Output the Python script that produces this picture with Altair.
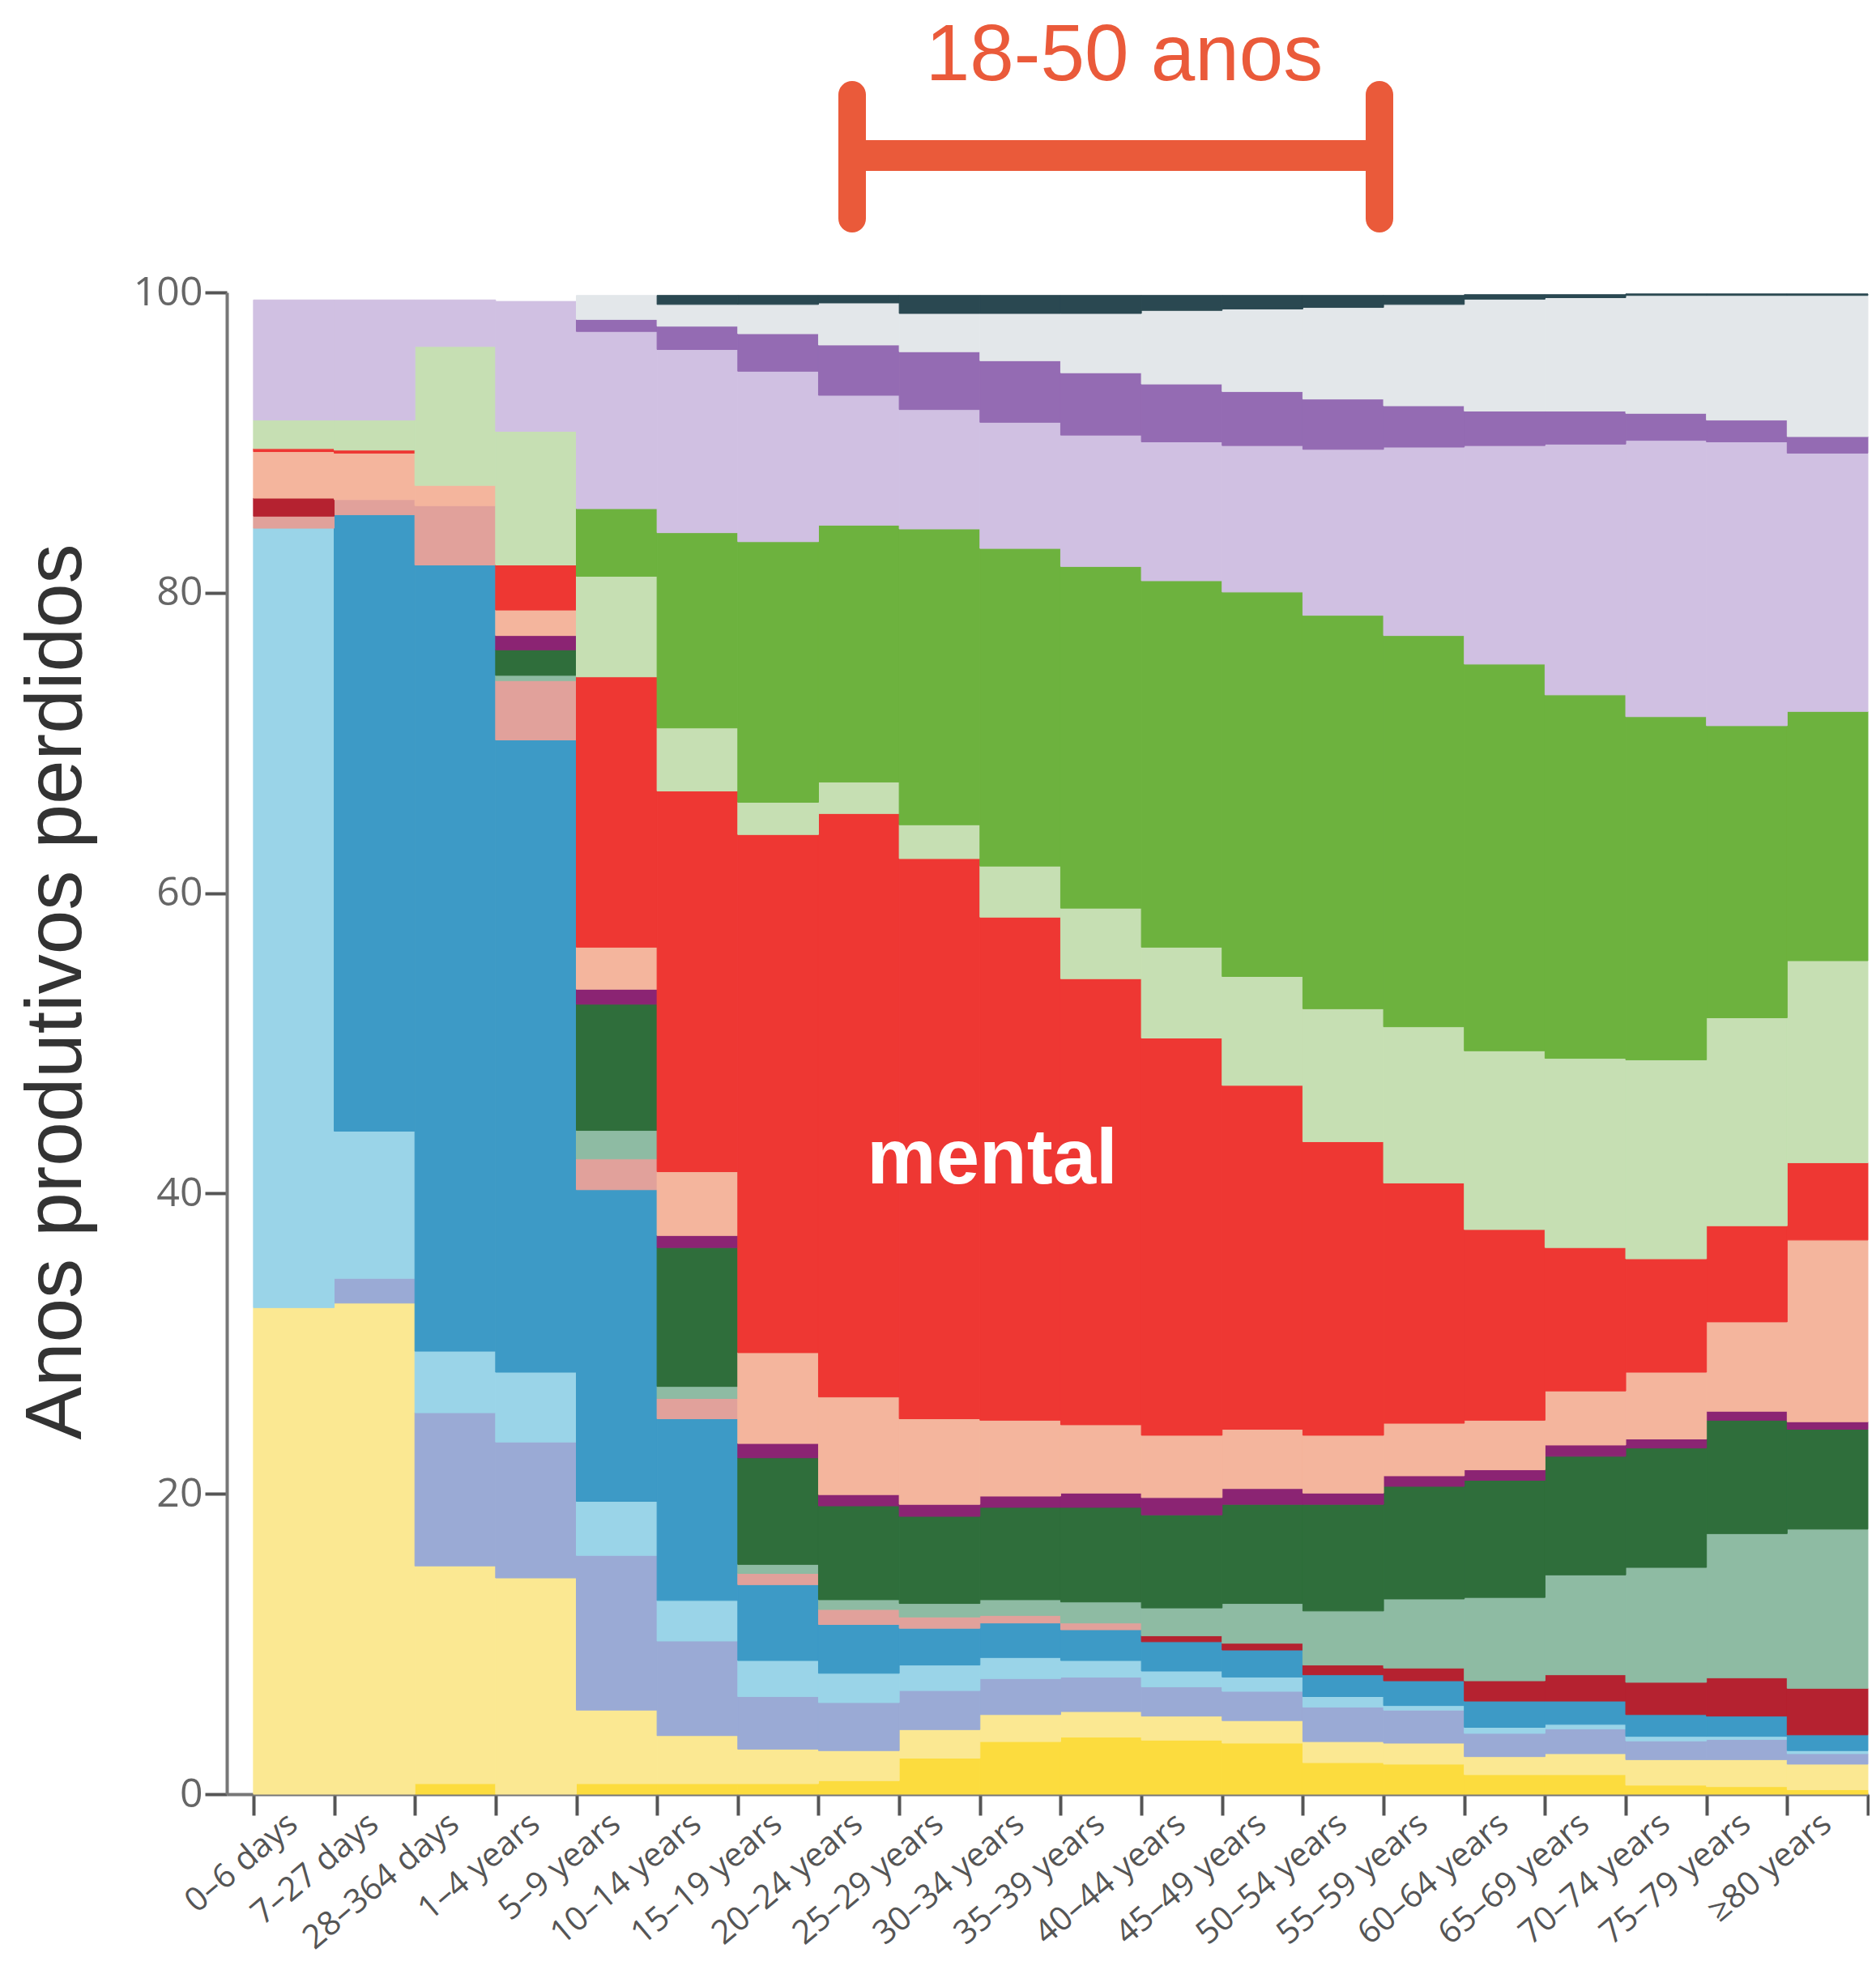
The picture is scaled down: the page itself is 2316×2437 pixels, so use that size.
import json
import altair as alt
import pandas as pd

# ---------------- data ----------------
age_groups = [
    "0–6 days", "7–27 days", "28–364 days", "1–4 years", "5–9 years",
    "10–14 years", "15–19 years", "20–24 years", "25–29 years", "30–34 years",
    "35–39 years", "40–44 years", "45–49 years", "50–54 years", "55–59 years",
    "60–64 years", "65–69 years", "70–74 years", "75–79 years", "≥80 years",
]

layer_names = [
    "L01 amarelo", "L02 amarelo claro", "L03 lilás-azul", "L04 azul claro",
    "L05 azul", "L06 rosa", "L07 carmim", "L08 verde-sálvia", "L09 verde escuro",
    "L10 roxo", "L11 salmão", "L12 mental", "L13 verde claro", "L14 verde",
    "L15 lavanda", "L16 roxo médio", "L17 cinza claro", "L18 ardósia",
]
layer_colors = [
    "#FCDC3E", "#FBE892", "#9AAAD5", "#9AD4E8", "#3D9AC6", "#E1A19B",
    "#B52230", "#8EBBA3", "#2F6E3B", "#8B2473", "#F4B59D", "#EE3733",
    "#C6DFB3", "#6DB23E", "#D0C0E2", "#946BB3", "#E3E7EA", "#2A4851",
]

# cumulative top of each layer (percent), one value per age group
top_L01 = [0, 0, 0.7, 0, 0.7, 0.7, 0.7, 0.9, 2.4, 3.5, 3.8, 3.6, 3.4, 2.1, 2.0, 1.3, 1.3, 0.6, 0.5, 0.3]
top_L02 = [32.4, 32.7, 15.2, 14.4, 5.6, 3.9, 3.0, 2.9, 4.3, 5.3, 5.5, 5.2, 4.9, 3.5, 3.4, 2.5, 2.7, 2.3, 2.3, 2.0]
top_L03 = [32.4, 34.35, 25.4, 23.45, 15.9, 10.2, 6.5, 6.1, 6.9, 7.7, 7.8, 7.15, 6.85, 5.8, 5.6, 4.05, 4.35, 3.55, 3.65, 2.7]
top_L04 = [84.3, 44.15, 29.5, 28.1, 19.5, 12.9, 8.9, 8.05, 8.6, 9.1, 8.9, 8.2, 7.8, 6.5, 5.9, 4.45, 4.65, 3.85, 3.85, 2.9]
top_L05 = [84.3, 85.2, 81.85, 70.2, 40.25, 25.0, 13.95, 11.3, 11.05, 11.4, 10.95, 10.15, 9.6, 7.95, 7.55, 6.2, 6.2, 5.3, 5.2, 3.95]
top_L06 = [85.1, 86.2, 85.8, 74.15, 42.3, 26.35, 14.7, 12.3, 11.8, 11.9, 11.4, 10.15, 9.6, 7.95, 7.55, 6.2, 6.2, 5.3, 5.2, 3.95]
top_L07 = [86.3, 86.2, 85.8, 74.15, 42.3, 26.35, 14.7, 12.3, 11.8, 11.9, 11.4, 10.55, 10.05, 8.6, 8.4, 7.55, 7.95, 7.45, 7.75, 7.05]
top_L08 = [86.3, 86.2, 85.8, 74.5, 44.2, 27.15, 15.3, 12.95, 12.7, 12.95, 12.8, 12.4, 12.7, 12.2, 13.0, 13.1, 14.6, 15.1, 17.35, 17.65]
top_L09 = [86.3, 86.2, 85.8, 76.2, 52.6, 36.4, 22.4, 19.2, 18.5, 19.1, 19.1, 18.6, 19.3, 19.3, 20.5, 20.9, 22.5, 23.05, 24.9, 24.3]
top_L10 = [86.3, 86.2, 85.8, 77.15, 53.6, 37.2, 23.35, 19.95, 19.3, 19.85, 20.05, 19.75, 20.35, 20.05, 21.2, 21.6, 23.25, 23.65, 25.5, 24.8]
top_L11 = [89.4, 89.3, 87.15, 78.85, 56.4, 41.45, 29.4, 26.45, 25.0, 24.9, 24.6, 23.9, 24.3, 23.9, 24.7, 24.9, 26.85, 28.1, 31.45, 36.9]
top_L12 = [89.6, 89.5, 87.15, 81.85, 74.4, 66.8, 63.9, 65.3, 62.3, 58.4, 54.3, 50.35, 47.2, 43.45, 40.7, 37.6, 36.4, 35.65, 37.85, 42.05]
top_L13 = [91.5, 91.5, 96.4, 90.75, 81.1, 71.0, 66.05, 67.4, 64.55, 61.8, 59.0, 56.4, 54.45, 52.3, 51.1, 49.5, 49.0, 48.9, 51.7, 55.5]
top_L14 = [91.5, 91.5, 96.4, 90.75, 85.6, 84.0, 83.4, 84.5, 84.25, 82.95, 81.75, 80.8, 80.05, 78.5, 77.15, 75.25, 73.2, 71.75, 71.15, 72.1]
top_L15 = [99.5, 99.5, 99.5, 99.4, 97.4, 96.2, 94.75, 93.15, 92.2, 91.35, 90.5, 90.05, 89.8, 89.55, 89.7, 89.8, 89.9, 90.15, 90.05, 89.3]
top_L16 = [99.5, 99.5, 99.5, 99.4, 98.2, 97.75, 97.25, 96.5, 96.05, 95.45, 94.65, 93.9, 93.4, 92.9, 92.45, 92.1, 92.1, 91.95, 91.5, 90.4]
top_L17 = [99.5, 99.5, 99.5, 99.4, 99.8, 99.2, 99.2, 99.3, 98.6, 98.6, 98.6, 98.8, 98.9, 99.0, 99.2, 99.55, 99.65, 99.8, 99.8, 99.8]
top_L18 = [99.5, 99.5, 99.5, 99.4, 99.8, 99.8, 99.8, 99.8, 99.8, 99.8, 99.8, 99.8, 99.8, 99.8, 99.8, 99.85, 99.85, 99.9, 99.9, 99.9]

tops = [top_L01, top_L02, top_L03, top_L04, top_L05, top_L06, top_L07, top_L08, top_L09,
        top_L10, top_L11, top_L12, top_L13, top_L14, top_L15, top_L16, top_L17, top_L18]

y_ticks = [0, 20, 40, 60, 80, 100]

# ---------------- build the table of stacked pieces ----------------
rows = []
prev = [0.0] * len(age_groups)
for li, (name, top) in enumerate(zip(layer_names, tops)):
    for b in range(len(age_groups)):
        lo, hi = prev[b], top[b]
        if hi - lo > 0:
            rows.append({"layer": name, "order": li, "bin": b, "bin_end": b + 1,
                         "grupo": age_groups[b], "y0": lo, "y1": hi})
    prev = top
df = pd.DataFrame(rows)

W, H = 2026, 1854
label_arr = json.dumps(age_groups + [""], ensure_ascii=False)

color_scale = alt.Scale(domain=layer_names, range=layer_colors)

areas = alt.Chart(df).mark_rect(strokeWidth=1).encode(
    x=alt.X("bin:Q",
            scale=alt.Scale(domain=[-0.33, 20], nice=False, zero=False),
            axis=alt.Axis(values=list(range(21)), labelExpr=f"{label_arr}[datum.value]",
                          labelAngle=-40, labelAlign="right", labelBaseline="top",
                          labelOffset=36, labelPadding=-10, labelFlush=False,
                          labelOverlap=False, labelBound=False, labelLimit=0,
                          labelFont="Open Sans", labelFontSize=41, labelColor="#555555",
                          tickSize=26, tickWidth=4, tickColor="#555555",
                          domainColor="#777777", domainWidth=4, grid=False, title=None)),
    x2="bin_end:Q",
    y=alt.Y("y0:Q",
            scale=alt.Scale(domain=[0, 100], nice=False),
            axis=alt.Axis(values=y_ticks, tickSize=27, tickWidth=4, tickColor="#555555",
                          domainColor="#777777", domainWidth=4, grid=False,
                          labelFont="Open Sans", labelFontSize=50, labelColor="#666666",
                          labelPadding=3,
                          title="Anos produtivos perdidos", titleFont="Liberation Sans",
                          titleFontSize=98, titleFontWeight="normal", titleColor="#333333",
                          titleAngle=270, titleX=-210, titleY=863,
                          titleAlign="center", titleBaseline="middle")),
    y2="y1:Q",
    color=alt.Color("layer:N", scale=color_scale, legend=None),
    stroke=alt.Stroke("layer:N", scale=color_scale, legend=None),
    order=alt.Order("order:Q"),
)

one = pd.DataFrame({"k": [0]})
bracket_color = "#EA5A3A"

h_bar = alt.Chart(one).mark_rule(color=bracket_color, strokeWidth=38, strokeCap="butt").encode(
    x=alt.value(772), x2=alt.value(1423), y=alt.value(-169))
v_left = alt.Chart(one).mark_rule(color=bracket_color, strokeWidth=34, strokeCap="round").encode(
    x=alt.value(772), y=alt.value(-244), y2=alt.value(-91))
v_right = alt.Chart(one).mark_rule(color=bracket_color, strokeWidth=34, strokeCap="round").encode(
    x=alt.value(1423), y=alt.value(-244), y2=alt.value(-91))
range_text = alt.Chart(one).mark_text(
    text="18-50 anos", color=bracket_color, font="Liberation Sans", fontSize=98,
    align="center", baseline="alphabetic").encode(x=alt.value(1108), y=alt.value(-262))
mental_text = alt.Chart(one).mark_text(
    text="mental", color="white", font="Liberation Sans", fontSize=96, fontWeight="bold",
    align="center", baseline="alphabetic").encode(x=alt.value(945), y=alt.value(1100))

chart = alt.layer(areas, h_bar, v_left, v_right, range_text, mental_text).properties(
    width=W, height=H,
    padding={"left": 272, "top": 353, "right": 2, "bottom": 214},
    autosize=alt.AutoSizeParams(type="none"),
    background="white",
).configure_view(stroke=None)

chart.save("out.html", embed_options={"renderer": "svg", "actions": False})
